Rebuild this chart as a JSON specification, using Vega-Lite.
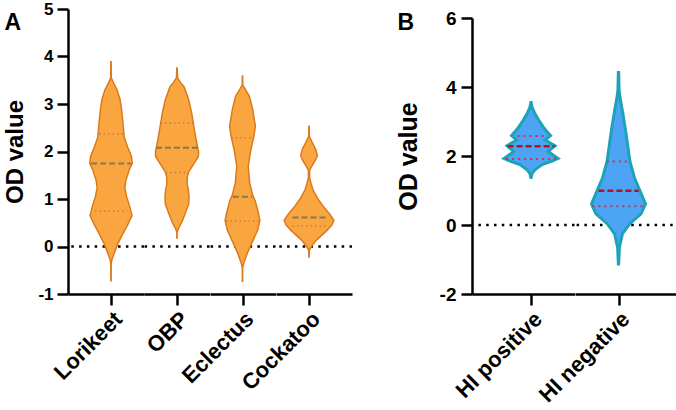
{
  "$schema": "https://vega.github.io/schema/vega-lite/v6.json",
  "padding": {"left": 3, "top": 0, "right": 0, "bottom": 0},
  "config": {
    "font": "Liberation Sans",
    "view": {"stroke": null},
    "axis": {"domainColor": "black", "domainWidth": 2.5, "tickColor": "black", "tickWidth": 2.5, "tickSize": 11, "labelColor": "black", "labelFontWeight": "bold", "titleColor": "black", "titleFontWeight": "bold", "grid": false, "labelFont": "Liberation Sans", "titleFont": "Liberation Sans"},
    "axisX": {"labelAngle": -45, "labelAlign": "right", "labelBaseline": "top", "labelPadding": 3, "labelFlush": false, "labelOverlap": false, "labelBound": false},
    "title": {"font": "Liberation Sans", "fontSize": 23, "fontWeight": "bold", "color": "black", "anchor": "start", "frame": "group", "baseline": "top"}
  },
  "datasets": {
    "v": [
      {"group": "Lorikeet", "stat": "shape", "od": 3.89, "density": 0.005},
      {"group": "Lorikeet", "stat": "shape", "od": 3.55, "density": 0.01},
      {"group": "Lorikeet", "stat": "shape", "od": 3.45, "density": 0.08},
      {"group": "Lorikeet", "stat": "shape", "od": 3.3, "density": 0.2},
      {"group": "Lorikeet", "stat": "shape", "od": 3.1, "density": 0.3},
      {"group": "Lorikeet", "stat": "shape", "od": 2.9, "density": 0.35},
      {"group": "Lorikeet", "stat": "shape", "od": 2.6, "density": 0.4},
      {"group": "Lorikeet", "stat": "shape", "od": 2.3, "density": 0.44},
      {"group": "Lorikeet", "stat": "shape", "od": 2.1, "density": 0.55},
      {"group": "Lorikeet", "stat": "shape", "od": 1.9, "density": 0.68},
      {"group": "Lorikeet", "stat": "shape", "od": 1.75, "density": 0.71},
      {"group": "Lorikeet", "stat": "shape", "od": 1.6, "density": 0.6},
      {"group": "Lorikeet", "stat": "shape", "od": 1.4, "density": 0.5},
      {"group": "Lorikeet", "stat": "shape", "od": 1.24, "density": 0.46},
      {"group": "Lorikeet", "stat": "shape", "od": 1.05, "density": 0.52},
      {"group": "Lorikeet", "stat": "shape", "od": 0.85, "density": 0.62},
      {"group": "Lorikeet", "stat": "shape", "od": 0.65, "density": 0.7},
      {"group": "Lorikeet", "stat": "shape", "od": 0.45, "density": 0.55},
      {"group": "Lorikeet", "stat": "shape", "od": 0.25, "density": 0.38},
      {"group": "Lorikeet", "stat": "shape", "od": 0.05, "density": 0.22},
      {"group": "Lorikeet", "stat": "shape", "od": -0.15, "density": 0.1},
      {"group": "Lorikeet", "stat": "shape", "od": -0.3, "density": 0.02},
      {"group": "Lorikeet", "stat": "shape", "od": -0.4, "density": 0.005},
      {"group": "Lorikeet", "stat": "shape", "od": -0.72, "density": 0.005},
      {"group": "OBP", "stat": "shape", "od": 3.76, "density": 0.005},
      {"group": "OBP", "stat": "shape", "od": 3.55, "density": 0.02},
      {"group": "OBP", "stat": "shape", "od": 3.45, "density": 0.12},
      {"group": "OBP", "stat": "shape", "od": 3.37, "density": 0.23},
      {"group": "OBP", "stat": "shape", "od": 3.09, "density": 0.39},
      {"group": "OBP", "stat": "shape", "od": 2.81, "density": 0.49},
      {"group": "OBP", "stat": "shape", "od": 2.61, "density": 0.54},
      {"group": "OBP", "stat": "shape", "od": 2.24, "density": 0.64},
      {"group": "OBP", "stat": "shape", "od": 1.99, "density": 0.72},
      {"group": "OBP", "stat": "shape", "od": 1.89, "density": 0.71},
      {"group": "OBP", "stat": "shape", "od": 1.75, "density": 0.57},
      {"group": "OBP", "stat": "shape", "od": 1.57, "density": 0.39},
      {"group": "OBP", "stat": "shape", "od": 1.45, "density": 0.34},
      {"group": "OBP", "stat": "shape", "od": 1.32, "density": 0.34},
      {"group": "OBP", "stat": "shape", "od": 1.18, "density": 0.38},
      {"group": "OBP", "stat": "shape", "od": 1.05, "density": 0.4},
      {"group": "OBP", "stat": "shape", "od": 0.9, "density": 0.39},
      {"group": "OBP", "stat": "shape", "od": 0.69, "density": 0.27},
      {"group": "OBP", "stat": "shape", "od": 0.51, "density": 0.16},
      {"group": "OBP", "stat": "shape", "od": 0.38, "density": 0.05},
      {"group": "OBP", "stat": "shape", "od": 0.3, "density": 0.005},
      {"group": "OBP", "stat": "shape", "od": 0.18, "density": 0.005},
      {"group": "Eclectus", "stat": "shape", "od": 3.59, "density": 0.005},
      {"group": "Eclectus", "stat": "shape", "od": 3.4, "density": 0.01},
      {"group": "Eclectus", "stat": "shape", "od": 3.3, "density": 0.1},
      {"group": "Eclectus", "stat": "shape", "od": 3.16, "density": 0.23},
      {"group": "Eclectus", "stat": "shape", "od": 2.88, "density": 0.34},
      {"group": "Eclectus", "stat": "shape", "od": 2.53, "density": 0.43},
      {"group": "Eclectus", "stat": "shape", "od": 2.32, "density": 0.38},
      {"group": "Eclectus", "stat": "shape", "od": 2.04, "density": 0.28},
      {"group": "Eclectus", "stat": "shape", "od": 1.69, "density": 0.19},
      {"group": "Eclectus", "stat": "shape", "od": 1.34, "density": 0.24},
      {"group": "Eclectus", "stat": "shape", "od": 1.1, "density": 0.33},
      {"group": "Eclectus", "stat": "shape", "od": 0.95, "density": 0.43},
      {"group": "Eclectus", "stat": "shape", "od": 0.7, "density": 0.53},
      {"group": "Eclectus", "stat": "shape", "od": 0.55, "density": 0.58},
      {"group": "Eclectus", "stat": "shape", "od": 0.35, "density": 0.51},
      {"group": "Eclectus", "stat": "shape", "od": 0.07, "density": 0.31},
      {"group": "Eclectus", "stat": "shape", "od": -0.14, "density": 0.16},
      {"group": "Eclectus", "stat": "shape", "od": -0.35, "density": 0.04},
      {"group": "Eclectus", "stat": "shape", "od": -0.45, "density": 0.005},
      {"group": "Eclectus", "stat": "shape", "od": -0.73, "density": 0.005},
      {"group": "Cockatoo", "stat": "shape", "od": 2.53, "density": 0.005},
      {"group": "Cockatoo", "stat": "shape", "od": 2.32, "density": 0.01},
      {"group": "Cockatoo", "stat": "shape", "od": 2.2, "density": 0.1},
      {"group": "Cockatoo", "stat": "shape", "od": 2.05, "density": 0.22},
      {"group": "Cockatoo", "stat": "shape", "od": 1.91, "density": 0.28},
      {"group": "Cockatoo", "stat": "shape", "od": 1.8, "density": 0.2},
      {"group": "Cockatoo", "stat": "shape", "od": 1.7, "density": 0.1},
      {"group": "Cockatoo", "stat": "shape", "od": 1.6, "density": 0.02},
      {"group": "Cockatoo", "stat": "shape", "od": 1.45, "density": 0.02},
      {"group": "Cockatoo", "stat": "shape", "od": 1.32, "density": 0.07},
      {"group": "Cockatoo", "stat": "shape", "od": 1.18, "density": 0.14},
      {"group": "Cockatoo", "stat": "shape", "od": 1.0, "density": 0.3},
      {"group": "Cockatoo", "stat": "shape", "od": 0.85, "density": 0.47},
      {"group": "Cockatoo", "stat": "shape", "od": 0.69, "density": 0.68},
      {"group": "Cockatoo", "stat": "shape", "od": 0.55, "density": 0.83},
      {"group": "Cockatoo", "stat": "shape", "od": 0.45, "density": 0.76},
      {"group": "Cockatoo", "stat": "shape", "od": 0.34, "density": 0.6},
      {"group": "Cockatoo", "stat": "shape", "od": 0.13, "density": 0.24},
      {"group": "Cockatoo", "stat": "shape", "od": 0.0, "density": 0.08},
      {"group": "Cockatoo", "stat": "shape", "od": -0.08, "density": 0.01},
      {"group": "Cockatoo", "stat": "shape", "od": -0.22, "density": 0.005},
      {"group": "HI positive", "stat": "shape", "od": 3.55, "density": 0.005},
      {"group": "HI positive", "stat": "shape", "od": 3.4, "density": 0.04},
      {"group": "HI positive", "stat": "shape", "od": 3.25, "density": 0.12},
      {"group": "HI positive", "stat": "shape", "od": 3.05, "density": 0.25},
      {"group": "HI positive", "stat": "shape", "od": 2.85, "density": 0.4},
      {"group": "HI positive", "stat": "shape", "od": 2.72, "density": 0.52},
      {"group": "HI positive", "stat": "shape", "od": 2.59, "density": 0.65},
      {"group": "HI positive", "stat": "shape", "od": 2.46, "density": 0.47},
      {"group": "HI positive", "stat": "shape", "od": 2.3, "density": 0.8},
      {"group": "HI positive", "stat": "shape", "od": 2.13, "density": 0.57},
      {"group": "HI positive", "stat": "shape", "od": 1.93, "density": 0.9},
      {"group": "HI positive", "stat": "shape", "od": 1.85, "density": 0.7},
      {"group": "HI positive", "stat": "shape", "od": 1.75, "density": 0.37},
      {"group": "HI positive", "stat": "shape", "od": 1.6, "density": 0.13},
      {"group": "HI positive", "stat": "shape", "od": 1.5, "density": 0.04},
      {"group": "HI positive", "stat": "shape", "od": 1.38, "density": 0.005},
      {"group": "HI negative", "stat": "shape", "od": 4.42, "density": 0.005},
      {"group": "HI negative", "stat": "shape", "od": 3.9, "density": 0.02},
      {"group": "HI negative", "stat": "shape", "od": 3.7, "density": 0.05},
      {"group": "HI negative", "stat": "shape", "od": 3.31, "density": 0.13},
      {"group": "HI negative", "stat": "shape", "od": 2.83, "density": 0.22},
      {"group": "HI negative", "stat": "shape", "od": 2.35, "density": 0.3},
      {"group": "HI negative", "stat": "shape", "od": 1.85, "density": 0.38},
      {"group": "HI negative", "stat": "shape", "od": 1.37, "density": 0.53},
      {"group": "HI negative", "stat": "shape", "od": 0.98, "density": 0.72},
      {"group": "HI negative", "stat": "shape", "od": 0.61, "density": 0.9},
      {"group": "HI negative", "stat": "shape", "od": 0.32, "density": 0.75},
      {"group": "HI negative", "stat": "shape", "od": 0.03, "density": 0.37},
      {"group": "HI negative", "stat": "shape", "od": -0.26, "density": 0.13},
      {"group": "HI negative", "stat": "shape", "od": -0.65, "density": 0.03},
      {"group": "HI negative", "stat": "shape", "od": -1.13, "density": 0.005},
      {"group": "Lorikeet", "stat": "quartile", "od": 2.37, "density": 0.4},
      {"group": "Lorikeet", "stat": "median", "od": 1.75, "density": 0.66},
      {"group": "Lorikeet", "stat": "quartile", "od": 0.745, "density": 0.53},
      {"group": "OBP", "stat": "quartile", "od": 2.6, "density": 0.55},
      {"group": "OBP", "stat": "median", "od": 2.08, "density": 0.7},
      {"group": "OBP", "stat": "quartile", "od": 1.56, "density": 0.38},
      {"group": "Eclectus", "stat": "quartile", "od": 2.29, "density": 0.38},
      {"group": "Eclectus", "stat": "median", "od": 1.05, "density": 0.32},
      {"group": "Eclectus", "stat": "quartile", "od": 0.53, "density": 0.55},
      {"group": "Cockatoo", "stat": "median", "od": 0.61, "density": 0.55},
      {"group": "Cockatoo", "stat": "quartile", "od": 0.43, "density": 0.55},
      {"group": "HI positive", "stat": "quartile", "od": 2.58, "density": 0.45},
      {"group": "HI positive", "stat": "median", "od": 2.28, "density": 0.78},
      {"group": "HI positive", "stat": "quartile", "od": 1.91, "density": 0.83},
      {"group": "HI negative", "stat": "quartile", "od": 1.84, "density": 0.39},
      {"group": "HI negative", "stat": "median", "od": 0.99, "density": 0.67},
      {"group": "HI negative", "stat": "quartile", "od": 0.54, "density": 0.87}
    ]
  },
  "spacing": 42,
  "hconcat": [
    {
      "spacing": 0,
      "bounds": "flush",
      "hconcat": [
        {
          "width": 76, "height": 285,
          "title": {"text": "A", "offset": -35, "dx": -63.5},
          "encoding": {"y": {"field": "od", "type": "quantitative", "scale": {"domain": [-1, 5], "nice": false, "zero": false}, "axis": {"title": "OD value", "titleFontSize": 24, "titlePadding": 10, "values": [-1, 0, 1, 2, 3, 4, 5], "labelExpr": "'' + datum.value", "labelFontSize": 17, "labelPadding": 4}}},
          "layer": [
            {"data": {"values": [{"od": 0}]}, "mark": {"type": "rule", "color": "black", "strokeWidth": 2.5, "strokeDash": [2.5, 5.3]}},
            {"data": {"name": "v"}, "transform": [{"filter": "datum.group === 'Lorikeet'"}, {"stack": "density", "groupby": ["od", "stat"], "offset": "center", "as": ["lo", "hi"]}, {"filter": "datum.stat === 'shape'"}],
             "mark": {"type": "area", "orient": "horizontal", "fill": "#F9A640", "stroke": "#DA7A1C", "strokeWidth": 1.5},
             "encoding": {"x": {"field": "lo", "type": "quantitative", "scale": {"domain": [-0.3617, 0.905], "nice": false, "zero": false}, "axis": {"values": [0.355], "labelExpr": "'Lorikeet'", "title": null, "labelFontSize": 22}}, "x2": {"field": "hi"}}},
            {"data": {"name": "v"}, "transform": [{"filter": "datum.group === 'Lorikeet'"}, {"stack": "density", "groupby": ["od", "stat"], "offset": "center", "as": ["lo", "hi"]}, {"filter": "datum.stat === 'median'"}],
             "mark": {"type": "rule", "color": "#857A4A", "strokeWidth": 2, "strokeDash": [6, 3]},
             "encoding": {"x": {"field": "lo", "type": "quantitative", "scale": {"domain": [-0.3617, 0.905], "nice": false, "zero": false}, "axis": {"values": [0.355], "labelExpr": "'Lorikeet'", "title": null, "labelFontSize": 22}}, "x2": {"field": "hi"}}},
            {"data": {"name": "v"}, "transform": [{"filter": "datum.group === 'Lorikeet'"}, {"stack": "density", "groupby": ["od", "stat"], "offset": "center", "as": ["lo", "hi"]}, {"filter": "datum.stat === 'quartile'"}],
             "mark": {"type": "rule", "color": "#C97A3A", "strokeWidth": 1.5, "strokeDash": [1.5, 3]},
             "encoding": {"x": {"field": "lo", "type": "quantitative", "scale": {"domain": [-0.3617, 0.905], "nice": false, "zero": false}, "axis": {"values": [0.355], "labelExpr": "'Lorikeet'", "title": null, "labelFontSize": 22}}, "x2": {"field": "hi"}}}
          ]
        },
        {
          "width": 65.5, "height": 285,
          "encoding": {"y": {"field": "od", "type": "quantitative", "scale": {"domain": [-1, 5], "nice": false, "zero": false}, "axis": null}},
          "layer": [
            {"data": {"values": [{"od": 0}]}, "mark": {"type": "rule", "color": "black", "strokeWidth": 2.5, "strokeDash": [2.5, 5.3]}},
            {"data": {"name": "v"}, "transform": [{"filter": "datum.group === 'OBP'"}, {"stack": "density", "groupby": ["od", "stat"], "offset": "center", "as": ["lo", "hi"]}, {"filter": "datum.stat === 'shape'"}],
             "mark": {"type": "area", "orient": "horizontal", "fill": "#F9A640", "stroke": "#DA7A1C", "strokeWidth": 1.5},
             "encoding": {"x": {"field": "lo", "type": "quantitative", "scale": {"domain": [-0.19, 0.9017], "nice": false, "zero": false}, "axis": {"values": [0.36], "labelExpr": "'OBP'", "title": null, "labelFontSize": 22}}, "x2": {"field": "hi"}}},
            {"data": {"name": "v"}, "transform": [{"filter": "datum.group === 'OBP'"}, {"stack": "density", "groupby": ["od", "stat"], "offset": "center", "as": ["lo", "hi"]}, {"filter": "datum.stat === 'median'"}],
             "mark": {"type": "rule", "color": "#857A4A", "strokeWidth": 2, "strokeDash": [6, 3]},
             "encoding": {"x": {"field": "lo", "type": "quantitative", "scale": {"domain": [-0.19, 0.9017], "nice": false, "zero": false}, "axis": {"values": [0.36], "labelExpr": "'OBP'", "title": null, "labelFontSize": 22}}, "x2": {"field": "hi"}}},
            {"data": {"name": "v"}, "transform": [{"filter": "datum.group === 'OBP'"}, {"stack": "density", "groupby": ["od", "stat"], "offset": "center", "as": ["lo", "hi"]}, {"filter": "datum.stat === 'quartile'"}],
             "mark": {"type": "rule", "color": "#C97A3A", "strokeWidth": 1.5, "strokeDash": [1.5, 3]},
             "encoding": {"x": {"field": "lo", "type": "quantitative", "scale": {"domain": [-0.19, 0.9017], "nice": false, "zero": false}, "axis": {"values": [0.36], "labelExpr": "'OBP'", "title": null, "labelFontSize": 22}}, "x2": {"field": "hi"}}}
          ]
        },
        {
          "width": 65.5, "height": 285,
          "encoding": {"y": {"field": "od", "type": "quantitative", "scale": {"domain": [-1, 5], "nice": false, "zero": false}, "axis": null}},
          "layer": [
            {"data": {"values": [{"od": 0}]}, "mark": {"type": "rule", "color": "black", "strokeWidth": 2.5, "strokeDash": [2.5, 5.3]}},
            {"data": {"name": "v"}, "transform": [{"filter": "datum.group === 'Eclectus'"}, {"stack": "density", "groupby": ["od", "stat"], "offset": "center", "as": ["lo", "hi"]}, {"filter": "datum.stat === 'shape'"}],
             "mark": {"type": "area", "orient": "horizontal", "fill": "#F9A640", "stroke": "#DA7A1C", "strokeWidth": 1.5},
             "encoding": {"x": {"field": "lo", "type": "quantitative", "scale": {"domain": [-0.2517, 0.84], "nice": false, "zero": false}, "axis": {"values": [0.29], "labelExpr": "'Eclectus'", "title": null, "labelFontSize": 22}}, "x2": {"field": "hi"}}},
            {"data": {"name": "v"}, "transform": [{"filter": "datum.group === 'Eclectus'"}, {"stack": "density", "groupby": ["od", "stat"], "offset": "center", "as": ["lo", "hi"]}, {"filter": "datum.stat === 'median'"}],
             "mark": {"type": "rule", "color": "#857A4A", "strokeWidth": 2, "strokeDash": [6, 3]},
             "encoding": {"x": {"field": "lo", "type": "quantitative", "scale": {"domain": [-0.2517, 0.84], "nice": false, "zero": false}, "axis": {"values": [0.29], "labelExpr": "'Eclectus'", "title": null, "labelFontSize": 22}}, "x2": {"field": "hi"}}},
            {"data": {"name": "v"}, "transform": [{"filter": "datum.group === 'Eclectus'"}, {"stack": "density", "groupby": ["od", "stat"], "offset": "center", "as": ["lo", "hi"]}, {"filter": "datum.stat === 'quartile'"}],
             "mark": {"type": "rule", "color": "#C97A3A", "strokeWidth": 1.5, "strokeDash": [1.5, 3]},
             "encoding": {"x": {"field": "lo", "type": "quantitative", "scale": {"domain": [-0.2517, 0.84], "nice": false, "zero": false}, "axis": {"values": [0.29], "labelExpr": "'Eclectus'", "title": null, "labelFontSize": 22}}, "x2": {"field": "hi"}}}
          ]
        },
        {
          "width": 76, "height": 285,
          "encoding": {"y": {"field": "od", "type": "quantitative", "scale": {"domain": [-1, 5], "nice": false, "zero": false}, "axis": null}},
          "layer": [
            {"data": {"values": [{"od": 0}]}, "mark": {"type": "rule", "color": "black", "strokeWidth": 2.5, "strokeDash": [2.5, 5.3]}},
            {"data": {"name": "v"}, "transform": [{"filter": "datum.group === 'Cockatoo'"}, {"stack": "density", "groupby": ["od", "stat"], "offset": "center", "as": ["lo", "hi"]}, {"filter": "datum.stat === 'shape'"}],
             "mark": {"type": "area", "orient": "horizontal", "fill": "#F9A640", "stroke": "#DA7A1C", "strokeWidth": 1.5},
             "encoding": {"x": {"field": "lo", "type": "quantitative", "scale": {"domain": [-0.135, 1.1317], "nice": false, "zero": false}, "axis": {"values": [0.415], "labelExpr": "'Cockatoo'", "title": null, "labelFontSize": 22}}, "x2": {"field": "hi"}}},
            {"data": {"name": "v"}, "transform": [{"filter": "datum.group === 'Cockatoo'"}, {"stack": "density", "groupby": ["od", "stat"], "offset": "center", "as": ["lo", "hi"]}, {"filter": "datum.stat === 'median'"}],
             "mark": {"type": "rule", "color": "#857A4A", "strokeWidth": 2, "strokeDash": [6, 3]},
             "encoding": {"x": {"field": "lo", "type": "quantitative", "scale": {"domain": [-0.135, 1.1317], "nice": false, "zero": false}, "axis": {"values": [0.415], "labelExpr": "'Cockatoo'", "title": null, "labelFontSize": 22}}, "x2": {"field": "hi"}}},
            {"data": {"name": "v"}, "transform": [{"filter": "datum.group === 'Cockatoo'"}, {"stack": "density", "groupby": ["od", "stat"], "offset": "center", "as": ["lo", "hi"]}, {"filter": "datum.stat === 'quartile'"}],
             "mark": {"type": "rule", "color": "#C97A3A", "strokeWidth": 1.5, "strokeDash": [1.5, 3]},
             "encoding": {"x": {"field": "lo", "type": "quantitative", "scale": {"domain": [-0.135, 1.1317], "nice": false, "zero": false}, "axis": {"values": [0.415], "labelExpr": "'Cockatoo'", "title": null, "labelFontSize": 22}}, "x2": {"field": "hi"}}}
          ]
        }
      ]
    },
    {
      "spacing": 0,
      "bounds": "flush",
      "hconcat": [
        {
          "width": 102.5, "height": 285,
          "title": {"text": "B", "offset": -26, "dx": -74.5},
          "encoding": {"y": {"field": "od", "type": "quantitative", "scale": {"domain": [-2, 6], "range": [285, 9], "nice": false, "zero": false}, "axis": {"title": "OD value", "titleFontSize": 25, "titlePadding": 18, "values": [-2, 0, 2, 4, 6], "labelExpr": "'' + datum.value", "labelFontSize": 19, "labelPadding": 5}}},
          "layer": [
            {"data": {"values": [{"od": 0}]}, "mark": {"type": "rule", "color": "black", "strokeWidth": 2.5, "strokeDash": [2.5, 5.3]}},
            {"data": {"name": "v"}, "transform": [{"filter": "datum.group === 'HI positive'"}, {"stack": "density", "groupby": ["od", "stat"], "offset": "center", "as": ["lo", "hi"]}, {"filter": "datum.stat === 'shape'"}],
             "mark": {"type": "area", "orient": "horizontal", "fill": "#4EA4F4", "stroke": "#1CA3B5", "strokeWidth": 3},
             "encoding": {"x": {"field": "lo", "type": "quantitative", "scale": {"domain": [-0.5333, 1.175], "nice": false, "zero": false}, "axis": {"values": [0.45], "labelExpr": "'HI positive'", "title": null, "labelFontSize": 22}}, "x2": {"field": "hi"}}},
            {"data": {"name": "v"}, "transform": [{"filter": "datum.group === 'HI positive'"}, {"stack": "density", "groupby": ["od", "stat"], "offset": "center", "as": ["lo", "hi"]}, {"filter": "datum.stat === 'median'"}],
             "mark": {"type": "rule", "color": "#B5121B", "strokeWidth": 2.5, "strokeDash": [6, 3]},
             "encoding": {"x": {"field": "lo", "type": "quantitative", "scale": {"domain": [-0.5333, 1.175], "nice": false, "zero": false}, "axis": {"values": [0.45], "labelExpr": "'HI positive'", "title": null, "labelFontSize": 22}}, "x2": {"field": "hi"}}},
            {"data": {"name": "v"}, "transform": [{"filter": "datum.group === 'HI positive'"}, {"stack": "density", "groupby": ["od", "stat"], "offset": "center", "as": ["lo", "hi"]}, {"filter": "datum.stat === 'quartile'"}],
             "mark": {"type": "rule", "color": "#D03050", "strokeWidth": 2, "strokeDash": [2, 4]},
             "encoding": {"x": {"field": "lo", "type": "quantitative", "scale": {"domain": [-0.5333, 1.175], "nice": false, "zero": false}, "axis": {"values": [0.45], "labelExpr": "'HI positive'", "title": null, "labelFontSize": 22}}, "x2": {"field": "hi"}}}
          ]
        },
        {
          "width": 105.5, "height": 285,
          "encoding": {"y": {"field": "od", "type": "quantitative", "scale": {"domain": [-2, 6], "range": [285, 9], "nice": false, "zero": false}, "axis": null}},
          "layer": [
            {"data": {"values": [{"od": 0}]}, "mark": {"type": "rule", "color": "black", "strokeWidth": 2.5, "strokeDash": [2.5, 5.3]}},
            {"data": {"name": "v"}, "transform": [{"filter": "datum.group === 'HI negative'"}, {"stack": "density", "groupby": ["od", "stat"], "offset": "center", "as": ["lo", "hi"]}, {"filter": "datum.stat === 'shape'"}],
             "mark": {"type": "area", "orient": "horizontal", "fill": "#4EA4F4", "stroke": "#1CA3B5", "strokeWidth": 3},
             "encoding": {"x": {"field": "lo", "type": "quantitative", "scale": {"domain": [-0.275, 1.4833], "nice": false, "zero": false}, "axis": {"values": [0.45], "labelExpr": "'HI negative'", "title": null, "labelFontSize": 22}}, "x2": {"field": "hi"}}},
            {"data": {"name": "v"}, "transform": [{"filter": "datum.group === 'HI negative'"}, {"stack": "density", "groupby": ["od", "stat"], "offset": "center", "as": ["lo", "hi"]}, {"filter": "datum.stat === 'median'"}],
             "mark": {"type": "rule", "color": "#B5121B", "strokeWidth": 2.5, "strokeDash": [6, 3]},
             "encoding": {"x": {"field": "lo", "type": "quantitative", "scale": {"domain": [-0.275, 1.4833], "nice": false, "zero": false}, "axis": {"values": [0.45], "labelExpr": "'HI negative'", "title": null, "labelFontSize": 22}}, "x2": {"field": "hi"}}},
            {"data": {"name": "v"}, "transform": [{"filter": "datum.group === 'HI negative'"}, {"stack": "density", "groupby": ["od", "stat"], "offset": "center", "as": ["lo", "hi"]}, {"filter": "datum.stat === 'quartile'"}],
             "mark": {"type": "rule", "color": "#D03050", "strokeWidth": 2, "strokeDash": [2, 4]},
             "encoding": {"x": {"field": "lo", "type": "quantitative", "scale": {"domain": [-0.275, 1.4833], "nice": false, "zero": false}, "axis": {"values": [0.45], "labelExpr": "'HI negative'", "title": null, "labelFontSize": 22}}, "x2": {"field": "hi"}}}
          ]
        }
      ]
    }
  ]
}
